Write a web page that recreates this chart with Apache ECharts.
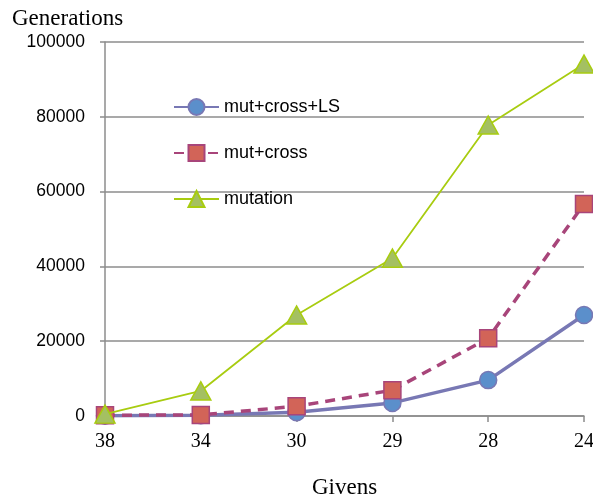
<!DOCTYPE html>
<html><head><meta charset="utf-8">
<script src="https://cdn.jsdelivr.net/npm/echarts@6/dist/echarts.min.js"></script>
<style>html,body{margin:0;padding:0;background:#fff}#c{width:593px;height:500px}</style>
</head><body><div id="c"></div>
<script>
const categories = ['38','34','30','29','28','24'];
const seriesNames = ['mut+cross+LS','mut+cross','mutation'];
const lsValues = [100, 200, 1000, 3500, 9600, 27000];
const crossValues = [200, 300, 2600, 6900, 20800, 56700];
const mutationValues = [500, 6700, 27000, 42200, 77800, 94100];
const yTicks = [0, 20000, 40000, 60000, 80000, 100000];

const chart = echarts.init(document.getElementById('c'));
chart.setOption({
  animation: false,
  title: {text: 'Generations', left: 7, top: 2, textStyle: {fontFamily: 'Liberation Serif', fontSize: 23, fontWeight: 'normal', color: '#000'}},
  grid: {left: 105, right: 9, top: 42, bottom: 84, containLabel: false, outerBoundsMode: 'none'},
  legend: {
    orient: 'vertical', left: 168, top: 93, itemWidth: 45, itemHeight: 20, itemGap: 28,
    textStyle: {fontFamily: 'Liberation Sans', fontSize: 18, color: '#000'},
    data: seriesNames
  },
  xAxis: {
    type: 'category', data: categories, boundaryGap: false,
    name: 'Givens', nameLocation: 'middle', nameGap: 60,
    nameTextStyle: {fontFamily: 'Liberation Serif', fontSize: 23, color: '#000'},
    axisLine: {lineStyle: {color: '#8c8c8c', width: 1.5}},
    axisTick: {show: true, length: 6, alignWithLabel: true, lineStyle: {color: '#8c8c8c', width: 1.5}},
    axisLabel: {fontFamily: 'Liberation Serif', fontSize: 20, color: '#000', margin: 16}
  },
  yAxis: {
    type: 'value', min: yTicks[0], max: yTicks[yTicks.length-1], interval: 20000,
    axisLine: {show: true, lineStyle: {color: '#8c8c8c', width: 1.5}},
    axisTick: {show: true, length: 5, lineStyle: {color: '#8c8c8c', width: 1.5}},
    splitLine: {lineStyle: {color: '#8c8c8c', width: 1.5}},
    axisLabel: {fontFamily: 'Liberation Sans', fontSize: 17.5, color: '#000', margin: 20, formatter: v => String(v)}
  },
  series: [
    {name: seriesNames[0], type: 'line', data: lsValues, symbol: 'circle', symbolSize: 17,
     lineStyle: {color: '#7878b4', width: 3.5},
     itemStyle: {color: '#5b8fcb', borderColor: '#7878b4', borderWidth: 1.5}, z: 3},
    {name: seriesNames[1], type: 'line', data: crossValues, symbol: 'rect', symbolSize: 17,
     lineStyle: {color: '#a8457a', width: 3.5, type: [10, 7]},
     itemStyle: {color: '#d26458', borderColor: '#a8457a', borderWidth: 1.5}, z: 4},
    {name: seriesNames[2], type: 'line', data: mutationValues, symbol: 'triangle', symbolSize: [20, 18],
     lineStyle: {color: '#a8cc10', width: 1.8},
     itemStyle: {color: '#a4c062', borderColor: '#a8cc10', borderWidth: 1.5}, z: 5}
  ]
});
</script></body></html>
